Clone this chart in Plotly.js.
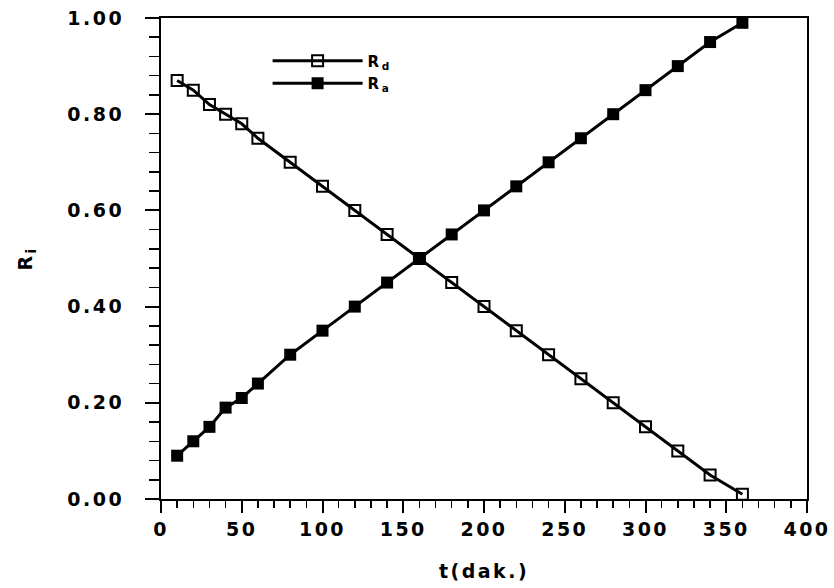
<!DOCTYPE html>
<html>
<head>
<meta charset="utf-8">
<script src="https://cdn.plot.ly/plotly-3.0.1.min.js"></script>
<style>
  html, body { margin: 0; padding: 0; background: #ffffff; }
  #chart { width: 834px; height: 588px; }
  .main-svg text { letter-spacing: 2.5px; }
</style>
</head>
<body>
<div id="chart"></div>
<script>
// time (min)
const t = [10, 20, 30, 40, 50, 60, 80, 100, 120, 140, 160, 180, 200, 220, 240, 260, 280, 300, 320, 340, 360];
// R_d values (open squares)
const Rd = [0.87, 0.85, 0.82, 0.80, 0.78, 0.75, 0.70, 0.65, 0.60, 0.55, 0.50, 0.45, 0.40, 0.35, 0.30, 0.25, 0.20, 0.15, 0.10, 0.05, 0.01];
// R_a values (filled squares)
const Ra = [0.09, 0.12, 0.15, 0.19, 0.21, 0.24, 0.30, 0.35, 0.40, 0.45, 0.50, 0.55, 0.60, 0.65, 0.70, 0.75, 0.80, 0.85, 0.90, 0.95, 0.99];
const xTicks = [0, 50, 100, 150, 200, 250, 300, 350, 400];
const yTicks = [0.0, 0.2, 0.4, 0.6, 0.8, 1.0];
const yTickLabels = ['0.00', '0.20', '0.40', '0.60', '0.80', '1.00'];

const fontFam = 'DejaVu Sans, Verdana, sans-serif';

const traces = [
  {
    x: t, y: Rd, name: 'R<sub>d</sub>', type: 'scatter', mode: 'lines+markers',
    line: { color: '#000000', width: 3 },
    marker: { symbol: 'square-open', size: 11, color: '#000000', line: { width: 2, color: '#000000' } }
  },
  {
    x: t, y: Ra, name: 'R<sub>a</sub>', type: 'scatter', mode: 'lines+markers',
    line: { color: '#000000', width: 3 },
    marker: { symbol: 'square', size: 12, color: '#000000' }
  }
];

const layout = {
  width: 834, height: 588,
  margin: { l: 161, r: 27, t: 18, b: 89 },
  paper_bgcolor: '#ffffff', plot_bgcolor: 'rgba(0,0,0,0)',
  showlegend: true,
  legend: {
    x: 0.165, y: 0.945, xanchor: 'left', yanchor: 'top',
    bgcolor: 'rgba(0,0,0,0)', borderwidth: 0,
    font: { family: fontFam, size: 15, color: '#000000', weight: 'bold' },
    itemwidth: 90, tracegroupgap: 0
  },
  xaxis: {
    range: [0, 400], tickvals: xTicks, ticktext: xTicks.map(String),
    ticks: 'outside', ticklen: 12, tickwidth: 2, tickcolor: '#000000',
    minor: { dtick: 10, ticks: 'outside', ticklen: 7, tickwidth: 1.5, tickcolor: '#000000' },
    showline: true, linewidth: 2, linecolor: '#000000', mirror: true,
    showgrid: false, zeroline: false,
    tickfont: { family: fontFam, size: 19, color: '#000000', weight: 'bold' },
    title: { text: 't(dak.)', font: { family: fontFam, size: 19, color: '#000000', weight: 'bold' }, standoff: 26 }
  },
  yaxis: {
    range: [0, 1], tickvals: yTicks, ticktext: yTickLabels,
    ticks: 'outside', ticklen: 14, tickwidth: 2, tickcolor: '#000000',
    minor: { dtick: 0.04, ticks: 'outside', ticklen: 10, tickwidth: 1.5, tickcolor: '#000000' },
    showline: true, linewidth: 2, linecolor: '#000000', mirror: true,
    showgrid: false, zeroline: false, ticklabelstandoff: 17,
    tickfont: { family: fontFam, size: 19, color: '#000000', weight: 'bold' },
    title: { text: 'R<sub>i</sub>', font: { family: fontFam, size: 19, color: '#000000', weight: 'bold' }, standoff: 40 }
  }
};

Plotly.newPlot('chart', traces, layout, { displayModeBar: false, staticPlot: true });
</script>
</body>
</html>
